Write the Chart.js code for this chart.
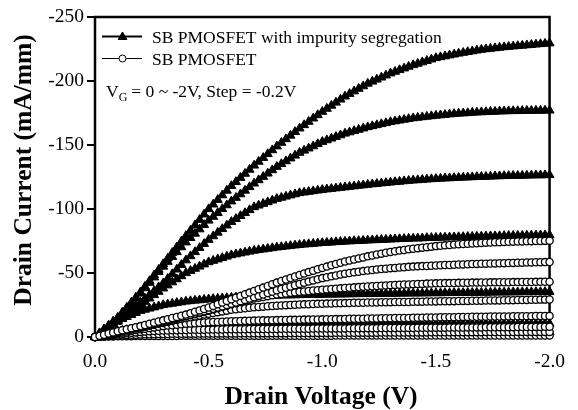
<!DOCTYPE html>
<html>
<head>
<meta charset="utf-8">
<script src="https://cdn.jsdelivr.net/npm/chart.js@4/dist/chart.umd.min.js"></script>
<style>
  html, body { margin: 0; padding: 0; background: #fff; }
  #wrap { width: 578px; height: 410px; }
</style>
</head>
<body>
<div id="wrap"><canvas id="chart" width="578" height="410"></canvas></div>
<script>
// Drain voltage sweep (V)
const vd = [
  0,-0.02,-0.04,-0.06,-0.08,-0.1,-0.12,-0.14,-0.16,-0.18,
  -0.2,-0.22,-0.24,-0.26,-0.28,-0.3,-0.32,-0.34,-0.36,-0.38,
  -0.4,-0.42,-0.44,-0.46,-0.48,-0.5,-0.52,-0.54,-0.56,-0.58,
  -0.6,-0.62,-0.64,-0.66,-0.68,-0.7,-0.72,-0.74,-0.76,-0.78,
  -0.8,-0.82,-0.84,-0.86,-0.88,-0.9,-0.92,-0.94,-0.96,-0.98,
  -1,-1.02,-1.04,-1.06,-1.08,-1.1,-1.12,-1.14,-1.16,-1.18,
  -1.2,-1.22,-1.24,-1.26,-1.28,-1.3,-1.32,-1.34,-1.36,-1.38,
  -1.4,-1.42,-1.44,-1.46,-1.48,-1.5,-1.52,-1.54,-1.56,-1.58,
  -1.6,-1.62,-1.64,-1.66,-1.68,-1.7,-1.72,-1.74,-1.76,-1.78,
  -1.8,-1.82,-1.84,-1.86,-1.88,-1.9,-1.92,-1.94,-1.96,-1.98,
  -2
];

const xTicks = [0, -0.5, -1, -1.5, -2];
const yTicks = [-250, -200, -150, -100, -50, 0];

// SB PMOSFET with impurity segregation, drain current (mA/mm)
const segVg20 = [
  0,-3,-6,-9,-12,-15,-19,-23,-27,-31,
  -35,-39.4,-43.8,-48.2,-52.6,-57,-61.4,-65.8,-70.2,-74.6,
  -79,-83.2,-87.4,-91.6,-95.8,-100,-103.6,-107.2,-110.8,-114.4,
  -118,-121.2,-124.4,-127.6,-130.8,-134,-137,-140,-143,-146,
  -149,-151.8,-154.6,-157.4,-160.2,-163,-165.6,-168.2,-170.8,-173.4,
  -176,-178.4,-180.8,-183.2,-185.6,-188,-190,-192,-194,-196,
  -198,-199.6,-201.2,-202.8,-204.4,-206,-207.3,-208.6,-209.9,-211.2,
  -212.5,-213.6,-214.7,-215.8,-216.9,-218,-218.7,-219.4,-220.1,-220.8,
  -221.5,-222.1,-222.7,-223.3,-223.9,-224.5,-224.9,-225.3,-225.7,-226.1,
  -226.5,-226.8,-227.1,-227.4,-227.7,-228,-228.3,-228.6,-228.9,-229.2,
  -229.5
];
const segVg18 = [
  0,-3,-6,-9,-12,-15,-18.8,-22.6,-26.4,-30.2,
  -34,-38.2,-42.4,-46.6,-50.8,-55,-58.8,-62.6,-66.4,-70.2,
  -74,-77.4,-80.8,-84.2,-87.6,-91,-94,-97,-100,-103,
  -106,-108.8,-111.6,-114.4,-117.2,-120,-122.6,-125.2,-127.8,-130.4,
  -133,-135.2,-137.4,-139.6,-141.8,-144,-145.7,-147.4,-149.1,-150.8,
  -152.5,-153.8,-155.1,-156.4,-157.7,-159,-160,-161,-162,-163,
  -164,-164.8,-165.6,-166.4,-167.2,-168,-168.6,-169.2,-169.8,-170.4,
  -171,-171.4,-171.8,-172.2,-172.6,-173,-173.3,-173.6,-174,-174.3,
  -174.6,-174.8,-175,-175.3,-175.5,-175.7,-175.8,-176,-176.1,-176.3,
  -176.4,-176.5,-176.6,-176.6,-176.7,-176.8,-176.8,-176.9,-176.9,-177,
  -177
];
const segVg16 = [
  0,-2.6,-5.2,-7.8,-10.4,-13,-15.8,-18.6,-21.4,-24.2,
  -27,-30,-33,-36,-39,-42,-45.6,-49.2,-52.8,-56.4,
  -60,-63.2,-66.4,-69.6,-72.8,-76,-78.8,-81.6,-84.4,-87.2,
  -90,-92.3,-94.6,-96.9,-99.2,-101.5,-102.8,-104.1,-105.4,-106.7,
  -108,-108.9,-109.8,-110.7,-111.6,-112.5,-113,-113.5,-114,-114.5,
  -115,-115.4,-115.8,-116.2,-116.6,-117,-117.4,-117.8,-118.2,-118.6,
  -119,-119.4,-119.7,-120.1,-120.4,-120.8,-121.1,-121.4,-121.8,-122.1,
  -122.4,-122.6,-122.9,-123.1,-123.4,-123.6,-123.8,-124,-124.1,-124.3,
  -124.5,-124.6,-124.8,-124.9,-125.1,-125.2,-125.3,-125.4,-125.6,-125.7,
  -125.8,-125.9,-126,-126,-126.1,-126.2,-126.3,-126.4,-126.4,-126.5,
  -126.6
];
const segVg14 = [
  0,-2.4,-4.8,-7.2,-9.6,-12,-14.6,-17.2,-19.8,-22.4,
  -25,-27.6,-30.2,-32.8,-35.4,-38,-40.4,-42.8,-45.2,-47.6,
  -50,-51.7,-53.4,-55.1,-56.8,-58.5,-59.6,-60.7,-61.8,-62.9,
  -64,-64.7,-65.4,-66.1,-66.8,-67.5,-68,-68.5,-69,-69.5,
  -70,-70.4,-70.8,-71.2,-71.6,-72,-72.3,-72.6,-72.9,-73.2,
  -73.5,-73.7,-73.9,-74.2,-74.4,-74.6,-74.8,-75,-75.1,-75.3,
  -75.5,-75.7,-75.8,-76,-76.1,-76.3,-76.4,-76.6,-76.7,-76.9,
  -77,-77.1,-77.2,-77.4,-77.5,-77.6,-77.7,-77.8,-77.9,-78,
  -78.1,-78.2,-78.3,-78.4,-78.5,-78.6,-78.7,-78.8,-78.8,-78.9,
  -79,-79.1,-79.1,-79.2,-79.2,-79.3,-79.4,-79.4,-79.5,-79.5,
  -79.6
];
const segVg12 = [
  0,-2.5,-5,-7.5,-10,-12.5,-14.1,-15.7,-17.3,-18.9,
  -20.5,-21.4,-22.3,-23.2,-24.1,-25,-25.6,-26.1,-26.7,-27.2,
  -27.8,-28.1,-28.5,-28.8,-29.2,-29.5,-29.8,-30,-30.3,-30.5,
  -30.8,-31,-31.2,-31.4,-31.6,-31.8,-31.9,-32,-32.2,-32.3,
  -32.4,-32.5,-32.6,-32.6,-32.7,-32.8,-32.9,-32.9,-33,-33,
  -33.1,-33.2,-33.2,-33.3,-33.3,-33.4,-33.5,-33.5,-33.6,-33.6,
  -33.7,-33.7,-33.8,-33.8,-33.9,-33.9,-33.9,-34,-34,-34.1,
  -34.1,-34.1,-34.2,-34.2,-34.3,-34.3,-34.3,-34.4,-34.4,-34.5,
  -34.5,-34.5,-34.6,-34.6,-34.7,-34.7,-34.7,-34.8,-34.8,-34.9,
  -34.9,-34.9,-35,-35,-35.1,-35.1,-35.1,-35.2,-35.2,-35.3,
  -35.3
];
const segVg10 = [
  0,-0.9,-1.8,-2.7,-3.6,-4.5,-5,-5.5,-6,-6.5,
  -7,-7.2,-7.5,-7.7,-8,-8.2,-8.3,-8.4,-8.6,-8.7,
  -8.8,-8.9,-8.9,-9,-9,-9.1,-9.1,-9.2,-9.2,-9.3,
  -9.3,-9.3,-9.3,-9.4,-9.4,-9.4,-9.4,-9.4,-9.5,-9.5,
  -9.5,-9.5,-9.5,-9.6,-9.6,-9.6,-9.6,-9.6,-9.7,-9.7,
  -9.7,-9.7,-9.7,-9.8,-9.8,-9.8,-9.8,-9.8,-9.9,-9.9,
  -9.9,-9.9,-9.9,-10,-10,-10,-10,-10,-10.1,-10.1,
  -10.1,-10.1,-10.1,-10.1,-10.1,-10.1,-10.1,-10.1,-10.2,-10.2,
  -10.2,-10.2,-10.2,-10.3,-10.3,-10.3,-10.3,-10.3,-10.3,-10.3,
  -10.3,-10.3,-10.3,-10.4,-10.4,-10.4,-10.4,-10.4,-10.5,-10.5,
  -10.5
];
const segVg08 = [
  0,-0.4,-0.8,-1.2,-1.6,-2,-2.2,-2.3,-2.5,-2.6,
  -2.8,-2.9,-2.9,-3,-3,-3.1,-3.1,-3.1,-3.1,-3.2,
  -3.2,-3.2,-3.2,-3.2,-3.2,-3.3,-3.3,-3.3,-3.3,-3.3,
  -3.3,-3.3,-3.3,-3.3,-3.3,-3.3,-3.3,-3.4,-3.4,-3.4,
  -3.4,-3.4,-3.4,-3.4,-3.4,-3.4,-3.4,-3.4,-3.4,-3.4,
  -3.5,-3.5,-3.5,-3.5,-3.5,-3.5,-3.5,-3.5,-3.5,-3.5,
  -3.5,-3.5,-3.6,-3.6,-3.6,-3.6,-3.6,-3.6,-3.6,-3.6,
  -3.6,-3.6,-3.6,-3.6,-3.6,-3.7,-3.7,-3.7,-3.7,-3.7,
  -3.7,-3.7,-3.7,-3.7,-3.7,-3.7,-3.7,-3.7,-3.7,-3.7,
  -3.8,-3.8,-3.8,-3.8,-3.8,-3.8,-3.8,-3.8,-3.8,-3.8,
  -3.8
];

// SB PMOSFET, drain current (mA/mm)
const sbVg20 = [
  0,-0.9,-1.8,-2.7,-3.6,-4.5,-5.3,-6.1,-6.9,-7.7,
  -8.5,-9.4,-10.3,-11.2,-12.1,-13,-13.9,-14.8,-15.7,-16.6,
  -17.5,-18.6,-19.7,-20.8,-21.9,-23,-24.3,-25.6,-26.9,-28.2,
  -29.5,-30.8,-32.1,-33.4,-34.7,-36,-37.3,-38.6,-39.9,-41.2,
  -42.5,-43.7,-44.9,-46.1,-47.3,-48.5,-49.6,-50.7,-51.8,-52.9,
  -54,-55,-56,-57,-58,-59,-59.8,-60.6,-61.4,-62.2,
  -63,-63.7,-64.4,-65.1,-65.8,-66.5,-67,-67.5,-68,-68.5,
  -69,-69.4,-69.8,-70.2,-70.6,-71,-71.3,-71.6,-71.9,-72.2,
  -72.5,-72.7,-72.9,-73.1,-73.3,-73.5,-73.7,-73.8,-74,-74.1,
  -74.3,-74.4,-74.5,-74.6,-74.7,-74.8,-74.9,-75,-75,-75.1,
  -75.2
];
const sbVg18 = [
  0,-0.8,-1.7,-2.5,-3.4,-4.2,-5,-5.8,-6.6,-7.4,
  -8.2,-9,-9.8,-10.7,-11.5,-12.3,-13.1,-14,-14.8,-15.7,
  -16.5,-17.4,-18.3,-19.2,-20.1,-21,-22,-23,-24,-25,
  -26,-27,-28,-29,-30,-31,-32.1,-33.2,-34.3,-35.4,
  -36.5,-37.5,-38.5,-39.5,-40.5,-41.5,-42.4,-43.3,-44.2,-45.1,
  -46,-46.7,-47.4,-48.1,-48.8,-49.5,-50,-50.5,-51,-51.5,
  -52,-52.4,-52.7,-53.1,-53.4,-53.8,-54,-54.3,-54.5,-54.8,
  -55,-55.2,-55.4,-55.5,-55.7,-55.9,-56,-56.2,-56.3,-56.5,
  -56.6,-56.7,-56.8,-57,-57.1,-57.2,-57.3,-57.4,-57.5,-57.6,
  -57.7,-57.8,-57.9,-58,-58.1,-58.2,-58.3,-58.4,-58.4,-58.5,
  -58.6
];
const sbVg16 = [
  0,-0.8,-1.6,-2.4,-3.2,-4,-4.8,-5.5,-6.3,-7,
  -7.8,-8.6,-9.4,-10.2,-11,-11.8,-12.6,-13.5,-14.3,-15.2,
  -16,-16.9,-17.8,-18.7,-19.6,-20.5,-21.5,-22.5,-23.5,-24.5,
  -25.5,-26.4,-27.3,-28.2,-29.1,-30,-30.6,-31.3,-31.9,-32.6,
  -33.2,-33.6,-34,-34.5,-34.9,-35.3,-35.6,-35.9,-36.3,-36.6,
  -36.9,-37.2,-37.5,-37.7,-38,-38.3,-38.5,-38.8,-39,-39.3,
  -39.5,-39.7,-39.9,-40.1,-40.3,-40.5,-40.7,-40.8,-41,-41.1,
  -41.3,-41.4,-41.5,-41.7,-41.8,-41.9,-42,-42.1,-42.1,-42.2,
  -42.3,-42.4,-42.4,-42.5,-42.5,-42.6,-42.6,-42.7,-42.7,-42.8,
  -42.8,-42.8,-42.9,-42.9,-43,-43,-43,-43.1,-43.1,-43.2,
  -43.2
];
const sbVg14 = [
  0,-0.7,-1.5,-2.2,-3,-3.7,-4.4,-5.1,-5.9,-6.6,
  -7.3,-8,-8.8,-9.5,-10.3,-11,-11.7,-12.5,-13.2,-14,
  -14.7,-15.4,-16.1,-16.8,-17.5,-18.2,-18.8,-19.4,-20,-20.6,
  -21.2,-21.6,-22,-22.4,-22.8,-23.2,-23.5,-23.7,-24,-24.2,
  -24.5,-24.7,-24.9,-25,-25.2,-25.4,-25.5,-25.6,-25.8,-25.9,
  -26,-26.1,-26.2,-26.3,-26.4,-26.5,-26.6,-26.7,-26.7,-26.8,
  -26.9,-27,-27,-27.1,-27.1,-27.2,-27.3,-27.3,-27.4,-27.4,
  -27.5,-27.6,-27.6,-27.7,-27.7,-27.8,-27.9,-27.9,-28,-28,
  -28.1,-28.2,-28.2,-28.3,-28.3,-28.4,-28.5,-28.5,-28.6,-28.6,
  -28.7,-28.8,-28.8,-28.9,-28.9,-29,-29.1,-29.1,-29.2,-29.2,
  -29.3
];
const sbVg12 = [
  0,-0.6,-1.2,-1.8,-2.4,-3,-3.6,-4.2,-4.8,-5.4,
  -6,-6.5,-7,-7.5,-8,-8.5,-8.9,-9.2,-9.6,-9.9,
  -10.3,-10.5,-10.8,-11,-11.3,-11.5,-11.7,-11.8,-12,-12.1,
  -12.3,-12.4,-12.5,-12.6,-12.7,-12.8,-12.9,-13,-13,-13.1,
  -13.2,-13.3,-13.3,-13.4,-13.4,-13.5,-13.6,-13.6,-13.7,-13.7,
  -13.8,-13.9,-13.9,-14,-14,-14.1,-14.2,-14.2,-14.3,-14.3,
  -14.4,-14.5,-14.5,-14.6,-14.6,-14.7,-14.8,-14.8,-14.9,-14.9,
  -15,-15.1,-15.1,-15.2,-15.2,-15.3,-15.4,-15.4,-15.5,-15.5,
  -15.6,-15.7,-15.7,-15.8,-15.8,-15.9,-15.9,-16,-16,-16,
  -16.1,-16.1,-16.2,-16.2,-16.2,-16.3,-16.3,-16.4,-16.4,-16.4,
  -16.5
];
const sbVg10 = [
  0,-0.4,-0.9,-1.3,-1.8,-2.2,-2.6,-2.9,-3.3,-3.6,
  -4,-4.2,-4.4,-4.6,-4.8,-5,-5.1,-5.2,-5.3,-5.4,
  -5.5,-5.6,-5.6,-5.7,-5.7,-5.8,-5.8,-5.9,-5.9,-6,
  -6,-6,-6.1,-6.1,-6.2,-6.2,-6.2,-6.2,-6.3,-6.3,
  -6.3,-6.4,-6.4,-6.4,-6.5,-6.5,-6.5,-6.5,-6.6,-6.6,
  -6.6,-6.6,-6.7,-6.7,-6.7,-6.7,-6.8,-6.8,-6.8,-6.9,
  -6.9,-6.9,-6.9,-7,-7,-7,-7,-7.1,-7.1,-7.1,
  -7.1,-7.2,-7.2,-7.2,-7.3,-7.3,-7.3,-7.3,-7.4,-7.4,
  -7.4,-7.4,-7.5,-7.5,-7.5,-7.5,-7.6,-7.6,-7.6,-7.7,
  -7.7,-7.7,-7.7,-7.8,-7.8,-7.8,-7.8,-7.9,-7.9,-8,
  -8
];
const sbVg08 = [
  0,-0.2,-0.5,-0.7,-1,-1.2,-1.4,-1.5,-1.7,-1.8,
  -2,-2.1,-2.2,-2.2,-2.3,-2.4,-2.4,-2.5,-2.5,-2.5,
  -2.6,-2.6,-2.6,-2.7,-2.7,-2.7,-2.7,-2.8,-2.8,-2.8,
  -2.8,-2.8,-2.9,-2.9,-2.9,-2.9,-2.9,-3,-3,-3,
  -3,-3,-3,-3.1,-3.1,-3.1,-3.1,-3.1,-3.2,-3.2,
  -3.2,-3.2,-3.2,-3.3,-3.3,-3.3,-3.3,-3.3,-3.4,-3.4,
  -3.4,-3.4,-3.4,-3.5,-3.5,-3.5,-3.5,-3.5,-3.5,-3.6,
  -3.6,-3.6,-3.6,-3.6,-3.7,-3.7,-3.7,-3.7,-3.7,-3.8,
  -3.8,-3.8,-3.8,-3.8,-3.8,-3.8,-3.9,-3.9,-3.9,-3.9,
  -3.9,-3.9,-3.9,-4,-4,-4,-4,-4,-4,-4,
  -4
];
const sbVg06 = [
  0,-0.1,-0.2,-0.3,-0.4,-0.5,-0.5,-0.6,-0.6,-0.7,
  -0.7,-0.7,-0.8,-0.8,-0.8,-0.8,-0.8,-0.8,-0.8,-0.9,
  -0.9,-0.9,-0.9,-0.9,-0.9,-0.9,-0.9,-0.9,-0.9,-0.9,
  -0.9,-0.9,-1,-1,-1,-1,-1,-1,-1,-1,
  -1,-1,-1,-1,-1,-1,-1,-1,-1,-1,
  -1,-1,-1,-1.1,-1.1,-1.1,-1.1,-1.1,-1.1,-1.1,
  -1.1,-1.1,-1.1,-1.1,-1.1,-1.1,-1.1,-1.1,-1.1,-1.1,
  -1.1,-1.1,-1.2,-1.2,-1.2,-1.2,-1.2,-1.2,-1.2,-1.2,
  -1.2,-1.2,-1.2,-1.2,-1.2,-1.2,-1.2,-1.2,-1.2,-1.2,
  -1.2,-1.2,-1.2,-1.2,-1.2,-1.2,-1.2,-1.2,-1.2,-1.2,
  -1.2
];

const segCurves = [segVg20, segVg18, segVg16, segVg14, segVg12, segVg10, segVg08];
const sbCurves = [sbVg20, sbVg18, sbVg16, sbVg14, sbVg12, sbVg10, sbVg08, sbVg06];

const legendLabels = ['SB PMOSFET with impurity segregation', 'SB PMOSFET'];
const noteMain = 'V';
const noteSub = 'G';
const noteRest = '= 0 ~ -2V, Step = -0.2V';

const SERIF = '"Liberation Serif", "Times New Roman", serif';

const toPoints = curve => curve.map((y, i) => ({ x: vd[i], y }));

const datasets = [];
sbCurves.forEach(curve => {
    datasets.push({
        data: toPoints(curve),
        showLine: true,
        borderColor: '#000',
        borderWidth: 1,
        pointStyle: 'circle',
        pointRadius: 3.6,
        pointBorderWidth: 1.3,
        pointBackgroundColor: '#fff',
        pointBorderColor: '#000',
        clip: false,
        order: 0
    });
});
segCurves.forEach(curve => {
    datasets.push({
        data: toPoints(curve),
        showLine: true,
        borderColor: '#000',
        borderWidth: 2,
        pointStyle: 'triangle',
        pointRadius: 5.2,
        pointBorderWidth: 1,
        pointBackgroundColor: '#000',
        pointBorderColor: '#000',
        clip: false,
        order: 1
    });
});

// frame, legend, note and axis titles
const framePlugin = {
    id: 'frame',
    beforeDatasetsDraw(chart) {
        const { ctx, chartArea: a } = chart;
        ctx.save();
        ctx.strokeStyle = '#000';
        ctx.lineWidth = 2.5;
        ctx.strokeRect(a.left, a.top, a.right - a.left, a.bottom - a.top);
        ctx.restore();
    },
    afterDraw(chart) {
        const { ctx } = chart;
        ctx.save();
        ctx.fillStyle = '#000';
        ctx.strokeStyle = '#000';

        // legend row 1
        ctx.lineWidth = 2;
        ctx.beginPath();
        ctx.moveTo(102, 36.5);
        ctx.lineTo(142, 36.5);
        ctx.stroke();
        ctx.lineWidth = 1;
        Chart.helpers.drawPoint(ctx, { pointStyle: 'triangle', radius: 5, borderWidth: 1 }, 122.5, 37);
        ctx.fill();
        // legend row 2
        ctx.beginPath();
        ctx.moveTo(102, 58.5);
        ctx.lineTo(142, 58.5);
        ctx.stroke();
        ctx.fillStyle = '#fff';
        Chart.helpers.drawPoint(ctx, { pointStyle: 'circle', radius: 3.5, borderWidth: 1 }, 122.5, 58.5);
        ctx.fillStyle = '#000';

        ctx.font = '17.5px ' + SERIF;
        ctx.textBaseline = 'alphabetic';
        ctx.textAlign = 'left';
        ctx.fillText(legendLabels[0], 152, 43);
        ctx.fillText(legendLabels[1], 152, 64.5);

        // V_G note
        ctx.fillText(noteMain, 106, 97);
        let x = 106 + ctx.measureText(noteMain).width;
        ctx.font = '12px ' + SERIF;
        ctx.fillText(noteSub, x, 101);
        x += ctx.measureText(noteSub).width + 4;
        ctx.font = '17.5px ' + SERIF;
        ctx.fillText(noteRest, x, 97);

        // axis titles
        ctx.font = 'bold 25.5px ' + SERIF;
        ctx.textAlign = 'center';
        ctx.fillText('Drain Voltage (V)', 321, 404);
        ctx.translate(31, 170);
        ctx.rotate(-Math.PI / 2);
        ctx.fillText('Drain Current (mA/mm)', 0, 0);
        ctx.restore();
    }
};

new Chart(document.getElementById('chart'), {
    type: 'scatter',
    data: { datasets },
    options: {
        responsive: false,
        animation: false,
        devicePixelRatio: 1,
        layout: { padding: { top: 17, right: 25, left: 0, bottom: 0 } },
        plugins: { legend: { display: false }, tooltip: { enabled: false } },
        scales: {
            x: {
                type: 'linear',
                min: -2,
                max: 0,
                reverse: true,
                afterBuildTicks: scale => { scale.ticks = xTicks.map(v => ({ value: v })); },
                afterFit: scale => { scale.height = 73; },
                grid: { drawOnChartArea: false, drawTicks: false },
                border: { display: false },
                ticks: {
                    color: '#000',
                    padding: 13,
                    maxRotation: 0,
                    font: { family: SERIF, size: 19.5 },
                    callback: v => v.toFixed(1)
                }
            },
            y: {
                type: 'linear',
                min: -250,
                max: 0,
                reverse: true,
                afterBuildTicks: scale => { scale.ticks = yTicks.map(v => ({ value: v })); },
                afterFit: scale => { scale.width = 95; },
                grid: { drawOnChartArea: false, drawTicks: true, tickLength: 8, color: '#000', lineWidth: 2 },
                border: { display: false },
                ticks: {
                    color: '#000',
                    padding: 3,
                    font: { family: SERIF, size: 19.5 },
                    callback: v => String(v)
                }
            }
        }
    },
    plugins: [framePlugin]
});
</script>
</body>
</html>
